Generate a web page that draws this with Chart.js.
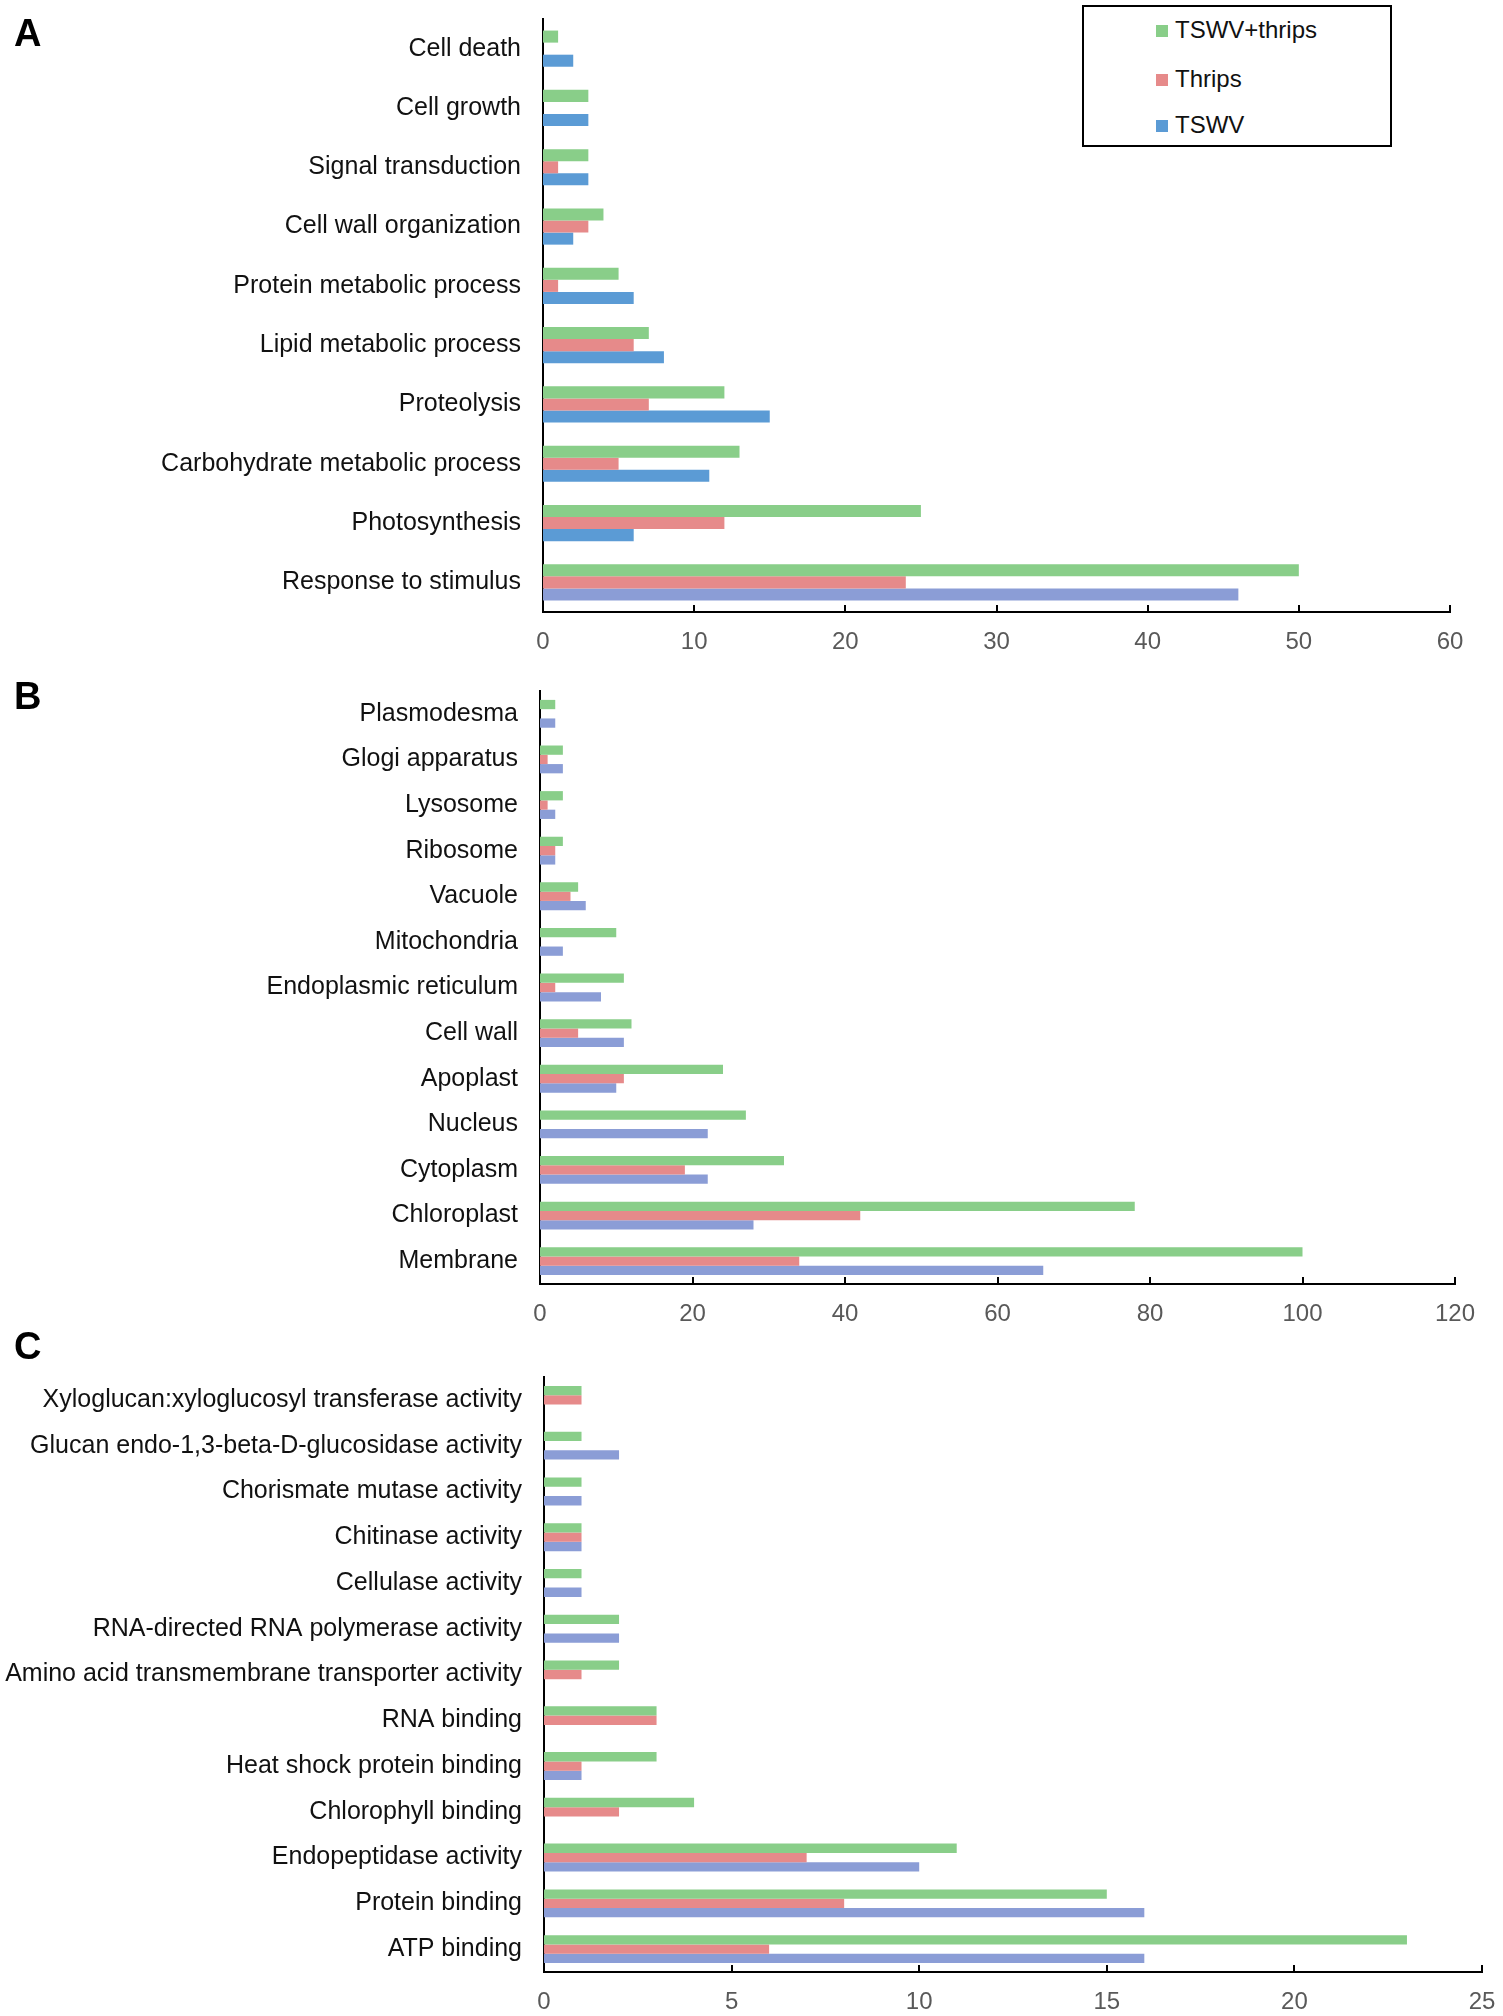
<!DOCTYPE html>
<html>
<head>
<meta charset="utf-8">
<script src="https://cdn.jsdelivr.net/npm/chart.js@4.4.0/dist/chart.umd.min.js"></script>
<style>
  body { margin: 0; background: #fff; font-family: "Liberation Sans", Arial, sans-serif; }
  #page { position: relative; width: 1503px; height: 2016px; overflow: hidden; }
  .panel { position: absolute; left: 0; width: 1503px; }
  .letter { position: absolute; left: 14px; font-weight: bold; font-size: 38px; line-height: 38px; color: #000; }
  #legend { position: absolute; left: 1082px; top: 5px; width: 306px; height: 138px; border: 2px solid #000; background: #fff; }
  .item { position: absolute; left: 72px; height: 28px; line-height: 28px; font-size: 24px; color: #111; white-space: nowrap; }
  .swatch { display: inline-block; width: 12px; height: 12px; margin-right: 7px; vertical-align: 1px; }
</style>
</head>
<body>
<div id="page">
  <div class="panel" style="top:0;height:670px"><canvas id="chartA"></canvas></div>
  <div class="panel" style="top:670px;height:670px"><canvas id="chartB"></canvas></div>
  <div class="panel" style="top:1340px;height:676px"><canvas id="chartC"></canvas></div>
  <div class="letter" style="top:14px">A</div>
  <div class="letter" style="top:677px">B</div>
  <div class="letter" style="top:1327px">C</div>
  <div id="legend"></div>
</div>
<script>
// series names and colours
const seriesNames = ['TSWV+thrips', 'Thrips', 'TSWV'];
const green = '#89ce89';
const red = '#e68a8a';
const blue = '#5b9bd5';
const lavender = '#8b9dd6';

// A - biological process
const catsA = ['Cell death', 'Cell growth', 'Signal transduction', 'Cell wall organization',
  'Protein metabolic process', 'Lipid metabolic process', 'Proteolysis',
  'Carbohydrate metabolic process', 'Photosynthesis', 'Response to stimulus'];
const comboA = [1, 3, 3, 4, 5, 7, 12, 13, 25, 50];
const thripsA = [0, 0, 1, 3, 1, 6, 7, 5, 12, 24];
const tswvA = [2, 3, 3, 2, 6, 8, 15, 11, 6, 46];

// B - cellular component
const catsB = ['Plasmodesma', 'Glogi apparatus', 'Lysosome', 'Ribosome', 'Vacuole', 'Mitochondria',
  'Endoplasmic reticulum', 'Cell wall', 'Apoplast', 'Nucleus', 'Cytoplasm', 'Chloroplast', 'Membrane'];
const comboB = [2, 3, 3, 3, 5, 10, 11, 12, 24, 27, 32, 78, 100];
const thripsB = [0, 1, 1, 2, 4, 0, 2, 5, 11, 0, 19, 42, 34];
const tswvB = [2, 3, 2, 2, 6, 3, 8, 11, 10, 22, 22, 28, 66];

// C - molecular function
const catsC = ['Xyloglucan:xyloglucosyl transferase activity', 'Glucan endo-1,3-beta-D-glucosidase activity',
  'Chorismate mutase activity', 'Chitinase activity', 'Cellulase activity',
  'RNA-directed RNA polymerase activity', 'Amino acid transmembrane transporter activity',
  'RNA binding', 'Heat shock protein binding', 'Chlorophyll binding', 'Endopeptidase activity',
  'Protein binding', 'ATP binding'];
const comboC = [1, 1, 1, 1, 1, 2, 2, 3, 3, 4, 11, 15, 23];
const thripsC = [1, 0, 0, 1, 0, 0, 1, 3, 1, 2, 7, 8, 6];
const tswvC = [0, 2, 1, 1, 1, 2, 0, 0, 1, 0, 10, 16, 16];

// the TSWV bar of the last group in A is lavender in the original
const tswvColorsA = catsA.map((c, i) => i === catsA.length - 1 ? lavender : blue);

// short upward tick marks on the x axis
const innerTicks = {
  id: 'innerTicks',
  afterDraw(chart) {
    const xs = chart.scales.x;
    const ctx = chart.ctx;
    const y0 = chart.chartArea.bottom;
    ctx.save();
    ctx.strokeStyle = '#000';
    ctx.lineWidth = 2;
    xs.ticks.forEach((t, i) => {
      const px = Math.round(xs.getPixelForTick(i));
      ctx.beginPath();
      ctx.moveTo(px, y0);
      ctx.lineTo(px, y0 - 7);
      ctx.stroke();
    });
    ctx.restore();
  }
};

function makeChart(id, labels, combo, thrips, tswv, tswvColor, opt) {
  const canvas = document.getElementById(id);
  const data = {
    labels,
    datasets: [
      { label: seriesNames[0], data: combo, backgroundColor: green },
      { label: seriesNames[1], data: thrips, backgroundColor: red },
      { label: seriesNames[2], data: tswv, backgroundColor: tswvColor }
    ]
  };
  const options = {
    indexAxis: 'y',
    responsive: true,
    maintainAspectRatio: false,
    animation: false,
    datasets: { bar: { categoryPercentage: 0.61, barPercentage: 1.0, borderWidth: 0 } },
    layout: { padding: { top: opt.top, right: opt.right, left: 0, bottom: 0 } },
    plugins: { legend: { display: false }, tooltip: { enabled: false } },
    scales: {
      x: {
        min: 0,
        max: opt.max,
        ticks: { stepSize: opt.step, color: '#595959', font: { family: 'Liberation Sans', size: 24 }, padding: 16, maxRotation: 0 },
        grid: { display: false, drawTicks: false },
        border: { display: true, color: '#000', width: 2 },
        afterFit: s => { s.height = opt.xh; s.paddingLeft = 0; s.paddingRight = 0; }
      },
      y: {
        ticks: { color: '#111', font: { family: 'Liberation Sans', size: 25 }, padding: 22, autoSkip: false },
        grid: { display: false, drawTicks: false },
        border: { display: true, color: '#000', width: 2 },
        afterFit: s => { s.width = opt.left; s.paddingTop = 0; s.paddingBottom = 0; }
      }
    }
  };
  return new Chart(canvas.getContext('2d'), { type: 'bar', data, options, plugins: [innerTicks] });
}

makeChart('chartA', catsA, comboA, thripsA, tswvA, tswvColorsA,
  { top: 19, right: 53, left: 543, xh: 58, max: 60, step: 10 });
makeChart('chartB', catsB, comboB, thripsB, tswvB, lavender,
  { top: 21, right: 48, left: 540, xh: 56, max: 120, step: 20 });
makeChart('chartC', catsC, comboC, thripsC, tswvC, lavender,
  { top: 37, right: 21, left: 544, xh: 44, max: 25, step: 5 });

// legend box of panel A
const legendColors = [green, red, blue];
const legendTops = [9, 58, 104];
const legend = document.getElementById('legend');
seriesNames.forEach((name, i) => {
  const row = document.createElement('div');
  row.className = 'item';
  row.style.top = legendTops[i] + 'px';
  const sw = document.createElement('span');
  sw.className = 'swatch';
  sw.style.background = legendColors[i];
  row.appendChild(sw);
  row.appendChild(document.createTextNode(name));
  legend.appendChild(row);
});
</script>
</body>
</html>
